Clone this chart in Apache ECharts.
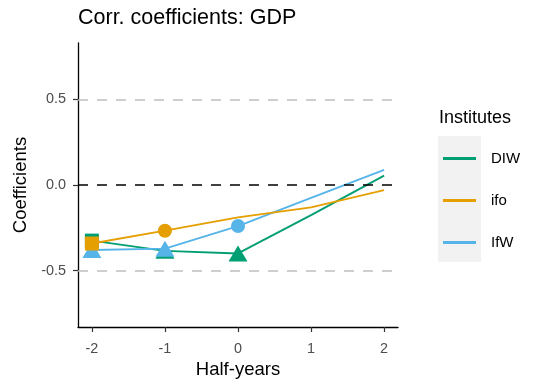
<!DOCTYPE html>
<html><head><meta charset="utf-8">
<script src="https://cdn.jsdelivr.net/npm/echarts@6/dist/echarts.min.js"></script>
<style>html,body{margin:0;padding:0;background:#fff}#c{width:535px;height:383px}</style>
</head><body><div id="c"></div>
<script>
const halfYears = [-2, -1, 0, 1, 2];
const diw = [-0.325, -0.385, -0.40, -0.176, 0.055];
const ifo = [-0.342, -0.267, -0.189, -0.131, -0.03];
const ifw = [-0.38, -0.372, -0.24, -0.075, 0.088];
// marker shapes per point (none where the source shows no marker)
const diwShapes = ['rect', 'triangle', 'triangle', 'none', 'none'];
const ifoShapes = ['rect', 'circle', 'none', 'none', 'none'];
const ifwShapes = ['triangle', 'triangle', 'circle', 'none', 'none'];
const xTicks = [-2, -1, 0, 1, 2];
const yTicks = [-0.5, 0, 0.5];
const FONT = '"Liberation Sans", Arial, sans-serif';

function sizeFor(s) { return s === 'triangle' ? [19, 16] : 14; }
function build(vals, shapes) {
  return halfYears.map((x, i) => ({ value: [x, vals[i]], symbol: shapes[i], symbolSize: sizeFor(shapes[i]) }));
}
function mkSeries(name, vals, shapes, color, z) {
  return { name, type: 'line', data: build(vals, shapes), z, color,
    lineStyle: { color, width: 1.9 }, itemStyle: { color, opacity: 1 },
    showAllSymbol: true, animation: false, emphasis: { disabled: true } };
}
const chart = echarts.init(document.getElementById('c'), null, { renderer: 'canvas' });
chart.setOption({
  animation: false,
  textStyle: { fontFamily: FONT },
  title: { text: 'Corr. coefficients: GDP', left: 73, top: 2,
    textStyle: { fontFamily: FONT, fontSize: 21.5, fontWeight: 'normal', color: '#000' } },
  grid: { left: 78, right: 137, top: 43, bottom: 56, containLabel: false, outerBoundsMode: 'none' },
  xAxis: { type: 'value', min: -2.19, max: 2.19,
    name: 'Half-years', nameLocation: 'middle', nameGap: 42,
    nameTextStyle: { fontFamily: FONT, fontSize: 18.5, color: '#000', verticalAlign: 'middle' },
    axisLine: { show: true, onZero: false, lineStyle: { color: '#000', width: 1.3 } },
    axisTick: { show: true, length: 5, customValues: xTicks, lineStyle: { color: '#333', width: 1.2 } },
    axisLabel: { customValues: xTicks, color: '#4D4D4D', fontSize: 14.4, fontFamily: FONT, margin: 15 },
    splitLine: { show: false } },
  yAxis: { type: 'value', min: -0.83, max: 0.83,
    name: 'Coefficients', nameLocation: 'middle', nameGap: 56, nameRotate: 90,
    nameTextStyle: { fontFamily: FONT, fontSize: 18.5, color: '#000', verticalAlign: 'middle' },
    axisLine: { show: true, onZero: false, lineStyle: { color: '#000', width: 1.3 } },
    axisTick: { show: true, length: 5, customValues: yTicks, lineStyle: { color: '#333', width: 1.2 } },
    axisLabel: { customValues: yTicks, color: '#4D4D4D', fontSize: 14.4, fontFamily: FONT, margin: 12,
      formatter: v => Number(v).toFixed(1) },
    splitLine: { show: false } },
  legend: { orient: 'vertical', left: 438, top: 146, icon: 'rect', itemWidth: 33, itemHeight: 3,
    itemGap: 27, data: ['DIW', 'ifo', 'IfW'], selectedMode: false,
    textStyle: { fontFamily: FONT, fontSize: 15, color: '#000', padding: [0, 0, 0, 10] } },
  graphic: [
    { type: 'rect', left: 438, top: 136, shape: { width: 43, height: 126 }, style: { fill: '#F2F2F2' }, z: -1 },
    { type: 'text', x: 439, y: 118, style: { text: 'Institutes', font: '18px ' + FONT, fill: '#000', verticalAlign: 'middle' } }
  ],
  series: [
    Object.assign(mkSeries('DIW', diw, diwShapes, '#009E73', 3), {
      markLine: { silent: true, symbol: 'none', label: { show: false }, animation: false,
        data: [
          { yAxis: 0.5, lineStyle: { color: '#BEBEBE', type: [10, 9], width: 1.6 } },
          { yAxis: -0.5, lineStyle: { color: '#BEBEBE', type: [10, 9], width: 1.6 } },
          { yAxis: 0, lineStyle: { color: '#000', type: [10, 9], width: 1.6 } }
        ] }
    }),
    mkSeries('IfW', ifw, ifwShapes, '#56B4E9', 4),
    mkSeries('ifo', ifo, ifoShapes, '#E69F00', 5)
  ]
});
</script></body></html>
